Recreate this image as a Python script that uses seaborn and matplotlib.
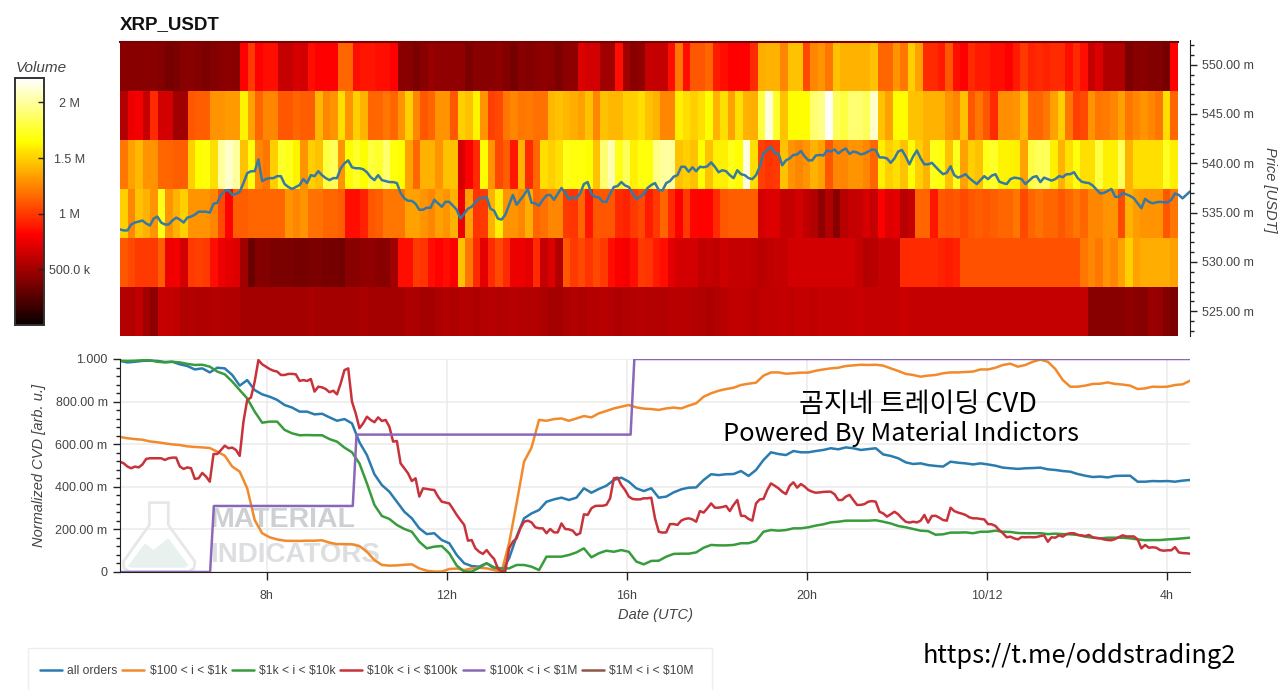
import numpy as np
import pandas as pd
import matplotlib
matplotlib.use('Agg')
import matplotlib.pyplot as plt
from matplotlib.patches import Polygon, Rectangle
from matplotlib.ticker import MultipleLocator, FuncFormatter
import seaborn as sns

# volume per price band in millions, one value per 10 min column
vol_550 = [.42,.42,.42,.42,.42,.40,.36,.38,.42,.42,.40,.38,.40,.42,.44,.42,.81,1.0,.81,.85,.85,.62,.62,.68,.66,.85,.81,.81,.81,1.15,1.15,.85,.88,.88,.85,.85,
           .81,.42,.42,.38,.42,.47,.45,.45,.45,.45,.38,.42,.42,.42,.44,.40,.36,.42,.40,.42,.44,.42,.38,.44,.44,.70,.66,.66,.5,.5,.85,.5,.42,.45,.62,.62,
           .62,.85,1.2,.85,1.1,1.1,1.15,.9,.85,.81,.81,.81,.95,1.38,1.4,1.4,1.25,1.45,1.45,1.05,1.25,1.3,1.2,1.45,1.4,1.4,1.4,1.4,1.45,1.15,1.15,1.3,1.2,1.5,1.35,.95,
           .95,.9,1.1,.85,.81,.95,.9,.9,.85,.85,.81,.9,1.0,.92,.95,.92,.95,.95,.85,.95,.85,.62,.7,.55,.55,.55,.38,.42,.42,.40,.40,.36,.81]
vol_545 = [.56,.75,.78,.62,.95,.66,.66,.5,.5,1.1,1.12,1.12,1.3,1.3,1.32,1.32,1.62,1.35,1.15,1.25,1.25,1.1,1.1,1.15,1.12,1.12,1.42,1.25,1.3,1.55,1.3,1.5,1.4,1.15,1.15,1.2,
           1.15,1.3,1.5,1.25,1.1,1.15,1.3,1.3,1.1,1.5,1.45,1.62,1.3,1.02,1.05,1.2,1.25,1.2,1.22,1.18,1.18,1.42,1.45,1.42,1.38,1.35,1.45,1.25,1.45,1.42,1.42,1.5,1.5,1.55,1.45,1.4,
           1.25,1.25,1.6,1.55,1.5,1.55,1.65,1.4,1.55,1.35,1.55,1.4,1.38,1.8,2.15,1.75,1.45,1.65,1.65,1.65,1.9,1.95,2.2,1.85,1.8,1.9,1.9,1.85,2.1,1.45,1.35,1.65,1.65,1.45,1.45,1.4,
           1.4,1.4,1.3,1.25,1.45,1.1,1.2,1.1,.95,1.28,1.28,1.3,1.42,1.15,1.15,1.2,1.35,1.5,1.2,1.02,1.05,1.3,1.2,1.22,1.25,1.35,1.2,1.25,1.3,1.25,1.2,1.55,1.15]
vol_540 = [1.2,1.35,1.42,1.3,1.3,1.15,1.15,1.12,1.12,1.5,1.65,1.68,1.55,2.0,2.1,2.0,1.45,1.68,1.25,1.2,1.5,1.75,1.7,1.62,1.3,1.5,1.45,1.8,1.85,1.3,1.65,1.75,1.65,1.8,1.75,1.9,
           1.68,1.65,1.35,1.15,1.4,1.4,1.3,1.45,1.45,.68,.8,.95,1.65,1.3,1.05,1.12,.88,1.4,.95,1.15,1.55,1.5,1.55,1.7,1.68,1.68,1.65,1.45,1.9,2.05,1.7,1.85,1.6,1.68,1.68,1.95,
           2.0,2.0,1.45,1.5,1.45,1.65,1.45,1.6,1.6,1.7,1.65,2.15,1.55,1.02,.98,1.0,1.45,1.3,1.25,1.3,1.4,1.35,1.1,1.25,1.25,1.3,1.3,1.25,1.15,1.6,1.5,1.55,1.45,1.65,1.5,1.4,
           1.7,1.68,1.45,1.72,1.35,1.5,1.45,1.7,1.75,1.62,1.62,1.6,1.35,1.8,1.85,1.85,1.6,1.4,1.55,1.68,1.55,1.55,1.8,1.6,1.6,1.85,1.4,1.55,1.55,1.55,1.55,1.72,1.6]
vol_535 = [1.5,1.25,1.45,1.4,1.3,1.7,1.3,1.4,1.5,1.3,1.3,1.3,1.25,1.05,.82,1.12,1.12,1.15,1.15,1.15,1.15,1.15,1.3,1.25,1.3,1.18,1.18,1.15,1.15,1.12,.85,.85,.92,1.1,1.12,1.2,
           1.2,1.2,1.35,1.35,1.3,1.25,1.35,1.3,1.4,.75,1.35,.98,1.0,1.4,1.6,1.3,1.3,1.25,1.38,1.15,1.18,1.25,1.25,1.0,.98,1.15,.88,1.1,1.1,1.1,.95,.92,1.0,1.05,.9,1.0,
           1.15,.95,.8,1.0,.83,.82,.82,.95,1.1,1.12,1.12,1.12,1.12,.66,.7,.7,.62,.62,.66,.6,.56,.45,.55,.42,.58,.62,.62,.68,.62,.8,.7,.72,.58,.62,1.15,1.15,
           .88,1.1,1.08,1.1,1.05,1.1,1.12,1.1,1.12,1.15,1.15,1.2,1.05,1.15,1.18,1.15,1.15,1.1,1.15,1.2,1.15,1.25,1.25,1.3,1.3,1.05,1.4,1.33,1.3,1.3,1.3,1.1,1.2]
vol_530 = [1.1,1.05,1.0,1.0,1.0,1.12,.75,.78,.66,1.0,1.02,1.0,.85,.75,.72,.7,.5,.32,.4,.4,.38,.38,.38,.36,.36,.38,.38,.36,.36,.34,.42,.42,.45,.45,.42,.42,
           .5,.85,.85,1.0,.98,.85,.82,.85,.8,1.45,1.2,.95,.72,.95,1.05,.95,.75,.75,.72,.95,.62,.7,.55,1.1,1.0,1.05,.98,1.05,1.0,.85,.8,.78,.85,1.0,.98,.9,
           .85,.72,.66,.66,.66,.6,.62,.6,.65,.62,.62,.62,.6,.58,.6,.62,.62,.66,.66,.66,.66,.66,.66,.66,.66,.66,.62,.56,.58,.62,.62,.62,.95,.95,.95,.95,
           .95,.92,.9,.92,1.08,1.08,1.08,1.08,1.08,1.08,1.08,1.08,1.08,1.08,1.08,1.08,1.08,1.08,1.08,1.08,1.2,1.25,1.2,1.3,1.25,1.35,1.5,1.35,1.38,1.38,1.38,1.38,1.35]
vol_525 = [.56,.56,.6,.5,.44,.62,.62,.6,.55,.56,.55,.55,.56,.55,.55,.55,.52,.52,.52,.52,.52,.52,.52,.52,.52,.53,.52,.52,.52,.52,.52,.52,.53,.52,.52,.52,
           .52,.52,.54,.54,.52,.52,.54,.56,.54,.56,.56,.54,.56,.58,.56,.56,.58,.56,.56,.56,.54,.52,.52,.54,.56,.54,.56,.56,.58,.56,.54,.56,.56,.58,.56,.56,
           .56,.58,.58,.58,.56,.56,.54,.56,.58,.6,.6,.6,.58,.6,.6,.6,.62,.6,.62,.62,.6,.62,.62,.62,.62,.62,.64,.62,.62,.62,.62,.62,.64,.62,.62,.62,
           .62,.62,.62,.62,.62,.62,.62,.62,.62,.62,.62,.62,.62,.62,.62,.62,.62,.62,.62,.62,.62,.42,.42,.42,.42,.42,.45,.42,.42,.48,.46,.4,.38]
price_bands = ['550', '545', '540', '535', '530', '525']

# price every 5 min
price = [533.3,533.2,533.2,533.8,534.0,534.1,534.2,533.9,533.7,534.4,534.6,534.0,533.8,533.8,534.2,534.5,534.3,534.0,534.5,534.6,534.8,535.1,535.1,535.1,535.0,535.9,536.0,536.8,537.2,537.3,536.8,536.9,537.1,538.0,539.0,539.2,
         539.2,540.4,538.2,538.4,538.5,538.5,538.7,538.7,537.9,537.6,537.4,537.6,537.8,538.4,538.0,538.8,538.7,539.2,538.8,538.5,538.3,538.5,538.5,539.5,540.0,540.3,539.6,539.5,539.5,539.4,539.1,538.6,538.3,538.8,538.3,538.2,
         538.1,538.1,538.0,537.0,536.45,536.2,536.2,535.9,535.3,535.3,535.5,535.5,536.3,535.95,535.6,536.1,536.1,535.7,535.3,534.4,534.9,535.4,535.6,536.05,536.45,536.5,536.6,535.4,535.2,534.4,534.3,534.8,535.8,536.8,535.8,536.3,536.8,537.4,536.0,535.95,535.7,536.3,536.75,536.8,536.3,536.9,537.5,537.0,536.35,536.55,536.45,536.95,537.9,538.1,536.9,536.6,536.55,536.1,536.1,536.9,537.6,537.7,538.1,537.75,537.6,536.95,536.4,536.6,536.9,537.5,537.8,538.0,
         537.3,537.25,538.0,538.2,538.65,538.8,539.65,539.65,539.15,539.6,539.2,539.65,539.6,539.7,540.1,539.65,539.1,539.3,539.2,538.8,538.5,539.3,538.9,538.8,538.5,538.4,538.8,539.65,541.0,541.35,541.7,541.0,541.0,539.8,540.3,540.5,540.85,540.9,541.25,540.7,540.3,540.3,540.8,540.85,540.8,541.3,541.2,541.4,541.0,541.3,541.5,540.95,541.2,541.1,540.9,541.0,541.2,541.4,541.35,540.6,540.6,540.5,540.05,540.5,541.2,541.35,540.7,539.9,540.7,541.3,540.5,539.9,
         539.9,540.05,539.65,539.25,538.9,539.05,539.7,538.8,538.55,538.7,538.9,538.5,538.2,537.9,538.3,538.7,538.4,538.75,538.9,538.15,538.0,537.9,538.4,538.55,538.5,538.4,537.9,538.25,538.6,538.7,538.1,538.55,538.4,538.25,538.4,538.7,538.6,538.9,538.9,539.1,538.5,538.15,538.05,538.0,537.75,537.35,536.95,537.0,537.2,537.4,536.6,536.6,537.0,536.85,536.7,536.45,535.95,535.45,536.4,536.1,535.95,536.05,536.1,536.05,536.05,536.3,536.95,536.8,536.45,536.8,537.15]

# normalized CVD every 10 min
cvd_all = [.991,.984,.987,.991,.992,.991,.986,.987,.975,.967,.951,.956,.937,.959,.956,.925,.875,.901,.854,.834,.823,.808,.784,.772,.753,.753,.740,.743,.726,.710,.718,.698,.609,.549,.459,.408,
           .377,.330,.283,.252,.205,.178,.182,.150,.135,.080,.041,.028,.025,.041,.017,.002,.064,.166,.252,.275,.291,.330,.341,.349,.338,.349,.393,.372,.390,.405,.432,.443,.424,.393,.380,.393,
           .349,.354,.374,.388,.396,.397,.432,.459,.455,.459,.460,.474,.451,.479,.526,.562,.554,.549,.568,.562,.562,.568,.573,.581,.576,.585,.581,.573,.577,.581,.552,.545,.534,.515,.507,.510,
           .502,.498,.495,.518,.513,.510,.505,.510,.505,.499,.490,.487,.484,.487,.488,.490,.482,.479,.474,.471,.460,.452,.446,.448,.444,.451,.452,.452,.424,.424,.427,.426,.427,.424,.429,.432]
cvd_100_1k = [.634,.628,.624,.621,.613,.609,.604,.599,.596,.590,.587,.585,.582,.565,.546,.495,.471,.393,.244,.182,.163,.153,.147,.146,.146,.147,.147,.149,.138,.131,.131,.130,.122,.095,.056,.033,
              .030,.031,.034,.036,.017,.006,.002,.002,.014,.016,.009,.017,.020,.017,.009,.002,.135,.322,.518,.584,.714,.710,.718,.721,.710,.721,.732,.726,.745,.756,.768,.776,.784,.773,.767,.765,
              .761,.768,.772,.768,.781,.792,.823,.839,.851,.859,.865,.878,.884,.889,.922,.937,.937,.931,.933,.936,.936,.945,.951,.956,.959,.967,.970,.973,.972,.973,.969,.956,.944,.930,.925,.917,
              .922,.925,.933,.937,.937,.939,.941,.951,.951,.959,.972,.978,.964,.972,.987,.997,.987,.953,.901,.870,.870,.875,.883,.884,.890,.883,.880,.875,.859,.862,.870,.869,.870,.878,.881,.898]
cvd_1k_10k = [.992,.991,.992,.994,.994,.987,.984,.987,.984,.977,.972,.973,.964,.941,.928,.894,.854,.815,.753,.701,.706,.706,.667,.651,.642,.643,.642,.642,.624,.612,.584,.562,.510,.416,.315,.263,
              .249,.221,.202,.189,.142,.111,.119,.122,.088,.030,.002,.002,.020,.041,.022,.017,.017,.033,.033,.025,.009,.072,.072,.072,.080,.092,.111,.069,.088,.100,.095,.103,.095,.049,.036,.052,
              .053,.072,.085,.086,.086,.092,.114,.127,.125,.125,.127,.135,.135,.146,.189,.197,.194,.197,.205,.205,.210,.218,.224,.233,.236,.241,.241,.241,.241,.243,.236,.228,.216,.210,.202,.194,
              .192,.175,.177,.185,.185,.186,.182,.189,.189,.194,.189,.188,.183,.182,.182,.182,.178,.180,.178,.177,.174,.166,.161,.158,.161,.161,.161,.158,.153,.149,.150,.150,.153,.155,.158,.161]
# this one and the next are every 5 min
cvd_10k_100k = [.518,.510,.495,.487,.495,.491,.505,.531,.534,.534,.534,.534,.526,.534,.537,.537,.495,.484,.491,.487,.437,.440,.465,.448,.424,.554,.554,.573,.593,.581,.584,.573,.545,.706,.808,.819,.894,.995,.975,.964,.953,.945,.941,.925,.925,.930,.930,.928,.897,.901,.897,.906,.847,.870,.867,.859,.844,.851,.834,.886,.948,.956,.800,.745,.675,.698,.729,.714,.703,.726,.709,.714,
                .682,.612,.615,.510,.487,.463,.427,.440,.354,.393,.390,.387,.385,.354,.330,.326,.322,.296,.268,.244,.221,.147,.150,.111,.095,.085,.103,.080,.061,.017,.002,.005,.111,.142,.158,.205,.236,.241,.233,.210,.205,.205,.182,.202,.186,.186,.228,.202,.200,.194,.174,.182,.271,.268,.299,.310,.311,.311,.315,.346,.440,.443,.408,.385,.354,.343,.341,.341,.346,.346,.349,.252,
                .189,.185,.186,.225,.225,.221,.241,.249,.252,.247,.236,.286,.279,.299,.322,.302,.302,.305,.310,.286,.315,.338,.264,.263,.249,.241,.322,.341,.343,.385,.416,.405,.393,.377,.366,.405,.421,.396,.413,.401,.385,.377,.372,.374,.376,.377,.377,.365,.338,.338,.354,.362,.338,.315,.315,.319,.330,.333,.330,.283,.275,.260,.271,.283,.271,.252,.236,.232,.236,.233,.241,.268,
                .232,.263,.264,.255,.244,.241,.302,.286,.279,.274,.268,.257,.252,.252,.249,.247,.225,.224,.216,.197,.182,.163,.166,.158,.153,.164,.163,.164,.163,.164,.169,.172,.142,.163,.161,.172,.166,.178,.182,.182,.174,.172,.169,.174,.163,.160,.158,.153,.150,.149,.155,.164,.172,.167,.167,.167,.153,.111,.127,.114,.116,.114,.103,.100,.102,.102,.117,.092,.089,.088,.086]
cvd_100k_1m = [0.0]*25 + [.31]*38 + [.645]*74 + [1.0]*149

legend_names = ['all orders', r'\$100 < i < \$1k', r'\$1k < i < \$10k', r'\$10k < i < \$100k', r'\$100k < i < \$1M', r'\$1M < i < \$10M']
line_colors = ['#2a7bb0', '#f28a2c', '#389c3c', '#c8323a', '#8a68b8', '#8c564b']
cvd_ticks = [0, .2, .4, .6, .8, 1.0]
hour_ticks = [8, 12, 16, 20, 24, 28]
hour_labels = ['8h', '12h', '16h', '20h', '10/12', '4h']
vol_ticks = [.5e6, 1e6, 1.5e6, 2e6]
vol_labels = ['500.0 k', '1 M', '1.5 M', '2 M']

W, H = 1280, 690
T0, T1 = 4.744, 28.52
TXT = '#444444'

sns.set_style('white')
plt.rcParams['font.family'] = ['Liberation Sans', 'DejaVu Sans']


def axbox(x0, y0, x1, y1):
    # pixel box to figure fractions
    return [x0 / W, 1 - y1 / H, (x1 - x0) / W, (y1 - y0) / H]


def times(vals):
    return np.linspace(T0, T1, len(vals))


fig = plt.figure(figsize=(12.8, 6.9), dpi=100)

# heatmap
ax_heat = fig.add_axes(axbox(120, 41.5, 1178, 336))
cax = fig.add_axes(axbox(15, 78, 44, 325))
df_vol = pd.DataFrame([vol_550, vol_545, vol_540, vol_535, vol_530, vol_525], index=price_bands) * 1e6
sns.heatmap(df_vol, ax=ax_heat, cbar_ax=cax, cmap='hot', vmin=0, vmax=2.22e6,
            xticklabels=False, yticklabels=False,
            cbar_kws={'ticks': vol_ticks})
ax_heat.set_xlabel('')
ax_heat.set_ylabel('')
for s in ax_heat.spines.values():
    s.set_visible(False)
ax_heat.spines['top'].set_visible(True)
ax_heat.spines['top'].set_color('#780000')
ax_heat.spines['top'].set_linewidth(1.5)

cax.set_axisbelow(False)
cax.set_yticklabels(vol_labels)
cax.tick_params(axis='y', direction='in', length=4.5, width=1, color='#222222', labelsize=9,
                labelcolor=TXT, pad=18.5, right=True, left=False)
for lab in cax.get_yticklabels():
    lab.set_ha('center')
for s in cax.spines.values():
    s.set_visible(True)
    s.set_color('#333333')
    s.set_linewidth(1.2)
fig.text(16 / W, 1 - 68.5 / H, 'Volume', style='italic', fontsize=11, color=TXT, va='center')

# price line on its own axes, wider than the heatmap
ax_price = fig.add_axes(axbox(120, 40, 1190, 336), facecolor='none')
sns.lineplot(x=times(price), y=price, ax=ax_price, color='#3579a4', lw=1.8, estimator=None)
ax_price.set_xlim(T0, T1)
ax_price.set_ylim(522.5, 552.5)
ax_price.set_xticks([])
ax_price.yaxis.tick_right()
ax_price.yaxis.set_major_locator(MultipleLocator(5))
ax_price.yaxis.set_minor_locator(MultipleLocator(1))
ax_price.yaxis.set_major_formatter(FuncFormatter(lambda v, p: '%.2f m' % v))
ax_price.tick_params(axis='y', which='major', direction='out', length=5, width=1, color='#222222',
                     labelsize=9, labelcolor=TXT, pad=4)
ax_price.tick_params(axis='y', which='minor', direction='out', length=3, width=1, color='#222222')
for name, s in ax_price.spines.items():
    s.set_visible(name == 'right')
ax_price.spines['right'].set_color('#222222')
fig.text(1270 / W, 1 - 190 / H, 'Price [USDT]', rotation=270, style='italic', fontsize=10.5, color=TXT,
         ha='center', va='center')
fig.text(120 / W, 1 - 24.5 / H, 'XRP_USDT', fontweight='bold', fontsize=13.5, color='#111111', va='center')

# CVD panel
ax = fig.add_axes(axbox(120, 359, 1190, 572))
ax.set_axisbelow(True)
ax.grid(True, which='major', color='#ebebeb', lw=1.1)

# watermark sits under the lines
flask = [(88, 443), (145, 443), (145, 510), (225, 620), (222, 640), (205, 650), (30, 650), (12, 640), (10, 620), (88, 510)]
hill = [(22, 635), (75, 565), (100, 585), (145, 550), (205, 630), (195, 638), (35, 638)]
to_fig = lambda pts: [((120 + a / 3) / W, 1 - (355 + b / 3) / H) for a, b in pts]
ax.add_patch(Polygon(to_fig(hill), closed=True, transform=fig.transFigure, fc='#e8f1ee', ec='none', zorder=0.6))
ax.add_patch(Polygon(to_fig(flask), closed=True, transform=fig.transFigure, fc='none', ec='#e6e8e7', lw=2, zorder=0.6))
ax.text(210 / W, 1 - 520 / H, 'MATERIAL', transform=fig.transFigure, fontweight='bold', fontsize=20.5,
        color='#cdd0d3', va='center', zorder=0.6)
ax.text(210 / W, 1 - 555 / H, 'INDICATORS', transform=fig.transFigure, fontweight='bold', fontsize=20,
        color='#dcdee0', va='center', zorder=0.6)

cvd_series = [cvd_all, cvd_100_1k, cvd_1k_10k, cvd_10k_100k, cvd_100k_1m]
for vals, name, col in zip(cvd_series, legend_names, line_colors):
    sns.lineplot(x=times(vals), y=vals, ax=ax, color=col, lw=1.8, estimator=None, label=name)
# nothing visible for this bucket, only its legend entry
ax.plot([], [], color=line_colors[5], lw=1.8, label=legend_names[5])
handles, labels = ax.get_legend_handles_labels()
ax.get_legend().remove()

ax.set_xlim(T0, T1)
ax.set_ylim(0, 1.0)
ax.set_xticks(hour_ticks)
ax.set_xticklabels(hour_labels)
ax.set_yticks(cvd_ticks)
ax.set_yticklabels(['0', '200.00 m', '400.00 m', '600.00 m', '800.00 m', '1.000'])
ax.yaxis.set_minor_locator(MultipleLocator(.04))
ax.tick_params(axis='y', which='major', direction='out', length=5, width=1, color='#222222', labelsize=9, labelcolor=TXT, pad=4, left=True)
ax.tick_params(axis='y', which='minor', direction='out', length=3, width=1, color='#222222', left=True)
ax.tick_params(axis='x', which='major', direction='out', length=6, width=1, color='#222222', labelsize=9, labelcolor=TXT, pad=7, bottom=True)
for name, s in ax.spines.items():
    s.set_visible(name in ('left', 'bottom'))
    s.set_color('#222222')
ax.set_xlabel('')
ax.set_ylabel('')
fig.text(39 / W, 1 - 465 / H, 'Normalized CVD [arb. u.]', rotation=90, style='italic', fontsize=10.5, color=TXT,
         ha='center', va='center')
fig.text(655 / W, 1 - 615 / H, 'Date (UTC)', style='italic', fontsize=10.5, color=TXT, ha='center', va='center')

# overlaid captions
kr_font = ['Noto Sans CJK KR', 'DejaVu Sans']
fig.text(918 / W, 1 - 404 / H, '곰지네 트레이딩 CVD', family=kr_font, fontsize=19.5, fontweight='medium', color='#000000', ha='center', va='center')
fig.text(901 / W, 1 - 434 / H, 'Powered By Material Indictors', family=kr_font, fontsize=18.3, fontweight='medium', color='#000000', ha='center', va='center')
fig.text(1079 / W, 1 - 656 / H, 'https://t.me/oddstrading2', family=kr_font, fontsize=18.3, fontweight='medium', color='#000000', ha='center', va='center')

# legend box runs off the bottom of the picture
fig.add_artist(Rectangle((28 / W, 1 - 694 / H), 684 / W, 46 / H, transform=fig.transFigure, fc='white', ec='#eeeeee', lw=1))
leg = fig.legend(handles, labels, loc='center left', bbox_to_anchor=(28 / W, 1 - 671 / H), ncol=6, fontsize=8.7,
                 frameon=False, borderpad=1.0, handlelength=1.8, handletextpad=0.45,
                 columnspacing=0.4, labelcolor=TXT, borderaxespad=0)

fig.savefig('out.png', dpi=100)
